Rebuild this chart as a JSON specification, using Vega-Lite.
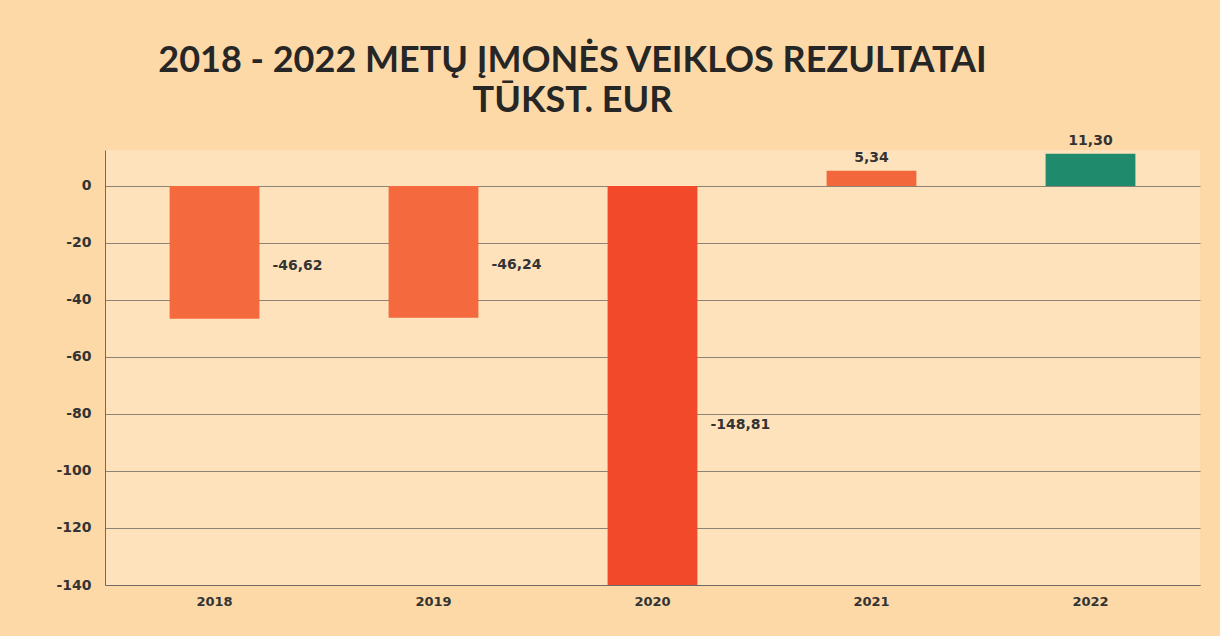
{
  "$schema": "https://vega.github.io/schema/vega-lite/v6.json",
  "autosize": {"type": "none"},
  "width": 1095,
  "height": 435,
  "padding": {"left": 105, "top": 150, "right": 20, "bottom": 51},
  "background": "#fcd9a7",
  "view": {"stroke": null, "fill": "#fde2bb"},
  "title": {
    "text": ["2018 - 2022 METŲ ĮMONĖS VEIKLOS REZULTATAI", "TŪKST. EUR"],
    "font": "Lato",
    "fontSize": 36,
    "fontWeight": "bold",
    "color": "#262626",
    "anchor": "middle",
    "dx": -80,
    "offset": 14,
    "lineHeight": 40
  },
  "data": {
    "values": [
      {"year": "2018", "value": -46.62, "label": "-46,62"},
      {"year": "2019", "value": -46.24, "label": "-46,24"},
      {"year": "2020", "value": -148.81, "label": "-148,81"},
      {"year": "2021", "value": 5.34, "label": "5,34"},
      {"year": "2022", "value": 11.30, "label": "11,30"}
    ]
  },
  "encoding": {
    "x": {
      "field": "year",
      "type": "nominal",
      "scale": {"paddingInner": 0.59, "paddingOuter": 0.295},
      "axis": {
        "title": null,
        "labelAngle": 0,
        "labelFont": "Verdana, DejaVu Sans",
        "labelFontSize": 13,
        "labelFontWeight": "bold",
        "labelColor": "#333333",
        "labelPadding": 10,
        "ticks": false,
        "domainColor": "#6e6a66",
        "domainWidth": 1
      }
    }
  },
  "layer": [
    {
      "mark": {"type": "bar", "clip": true},
      "encoding": {
        "y": {
          "field": "value",
          "type": "quantitative",
          "scale": {"domain": [-140, 12.6], "nice": false, "zero": false},
          "axis": {
            "title": null,
            "values": [0, -20, -40, -60, -80, -100, -120, -140],
            "labelExpr": "replace(datum.label, '−', '-')",
            "labelFont": "Verdana, DejaVu Sans",
            "labelFontSize": 14,
            "labelFontWeight": "bold",
            "labelColor": "#333333",
            "labelPadding": 14,
            "ticks": false,
            "grid": true,
            "gridColor": "#6f6a64",
            "gridWidth": 1,
            "gridOpacity": 0.8,
            "domainColor": "#6e6a66",
            "domainWidth": 1
          }
        },
        "y2": {"datum": 0},
        "color": {
          "field": "year",
          "type": "nominal",
          "scale": {
            "domain": ["2018", "2019", "2020", "2021", "2022"],
            "range": ["#f4693d", "#f4693d", "#f2492b", "#f3673d", "#1f8a6c"]
          },
          "legend": null
        }
      }
    },
    {
      "transform": [
        {"filter": "datum.value < 0"},
        {"calculate": "max(datum.value, -140) * 0.6", "as": "labelPos"}
      ],
      "mark": {
        "type": "text",
        "align": "left",
        "baseline": "middle",
        "dx": 58,
        "font": "Verdana, DejaVu Sans",
        "fontSize": 14,
        "fontWeight": "bold",
        "color": "#333333"
      },
      "encoding": {
        "y": {"field": "labelPos", "type": "quantitative"},
        "text": {"field": "label"}
      }
    },
    {
      "transform": [{"filter": "datum.value >= 0"}],
      "mark": {
        "type": "text",
        "align": "center",
        "baseline": "bottom",
        "dy": -6,
        "font": "Verdana, DejaVu Sans",
        "fontSize": 14,
        "fontWeight": "bold",
        "color": "#333333"
      },
      "encoding": {
        "y": {"field": "value", "type": "quantitative"},
        "text": {"field": "label"}
      }
    }
  ]
}
